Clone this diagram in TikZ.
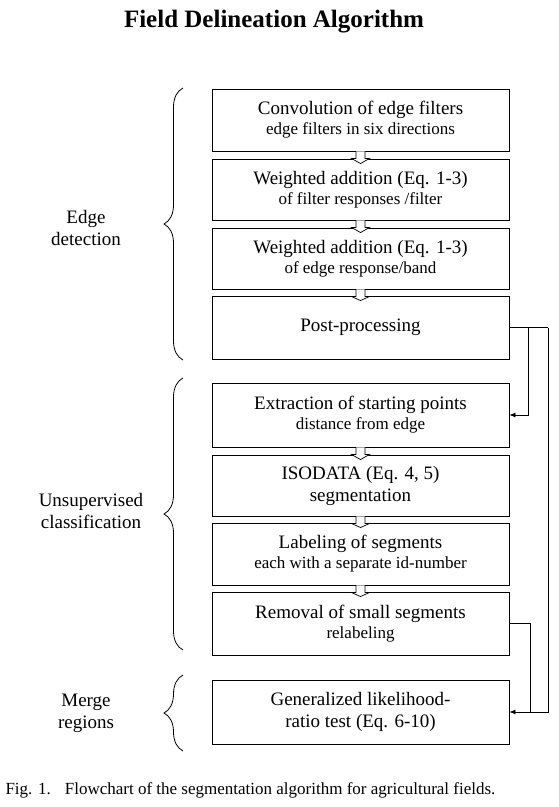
\documentclass[tikz,border=0pt]{standalone}
\usepackage{fontspec}
\setmainfont{Liberation Serif}
\usetikzlibrary{calc,arrows.meta,decorations.pathreplacing}
\newcommand\mainf{\fontsize{19}{22}\selectfont}
\newcommand\subf{\fontsize{17}{22}\selectfont}
\begin{document}
\begin{tikzpicture}[x=1pt,y=-1pt,
  box/.style={draw,line width=0.9pt,minimum width=297pt,inner sep=0pt,align=center,font=\mainf},
  side/.style={align=center,font=\mainf},
  hollow/.style={draw,line width=0.7pt,fill=white},
  link/.style={draw,line width=0.8pt},
  arr/.style={link,-{Latex[length=6pt,width=5pt]}},
  brc/.style={draw,line width=0.8pt,decorate,decoration={brace,amplitude=19pt}}]
\useasboundingbox (0,0) rectangle (558,807);
\node[font=\fontsize{25}{28}\selectfont\bfseries] (title) at (274,22) {Field Delineation Algorithm};

\node[box,minimum height=62pt] (b1) at (360.5,120) {\rule{0pt}{4pt}Convolution of edge filters\\[-2pt]\subf edge filters in six directions};
\node[box,minimum height=61pt] (b2) at (360.5,189.5) {\rule{0pt}{4pt}Weighted addition (Eq. 1-3)\\[-2pt]\subf of filter responses /filter};
\node[box,minimum height=61pt] (b3) at (360.5,258.5) {\rule{0pt}{4pt}Weighted addition (Eq. 1-3)\\[-2pt]\subf of edge response/band};
\node[box,minimum height=63pt] (b4) at (360.5,327.5) {Post-processing};
\node[box,minimum height=64pt] (b5) at (360.5,415) {\rule{0pt}{4pt}Extraction of starting points\\[-2pt]\subf distance from edge};
\node[box,minimum height=61pt] (b6) at (360.5,485.5) {ISODATA (Eq. 4, 5)\\segmentation};
\node[box,minimum height=62pt] (b7) at (360.5,554) {\rule{0pt}{4pt}Labeling of segments\\[-2pt]\subf each with a separate id-number};
\node[box,minimum height=63pt] (b8) at (360.5,623.5) {\rule{0pt}{4pt}Removal of small segments\\[-2pt]\subf relabeling};
\node[box,minimum height=64pt] (b9) at (360.5,712) {Generalized likelihood-\\ratio test (Eq. 6-10)};

% hollow block arrows
\foreach \a/\b in {b1/b2,b2/b3,b3/b4,b5/b6,b6/b7,b7/b8}{
  \path[hollow] ($(\a.south)+(-4.5,0)$) -- ++(0,7) -- ++(-4.5,0) -- ($(\b.north)+(0,5)$)
     -- ($(\a.south)+(9,7)$) -- ++(-4.5,0) -- ($(\a.south)+(4.5,0)$);
}

% connectors
\coordinate (c1) at (528,327.5);
\coordinate (c2) at (548,327.5);
\coordinate (c3) at (530,623.5);
\draw[link] (b4.east) -- (c2);
\draw[arr] (c1) |- (b5.east);
\draw[arr] (c2) |- (b9.east);
\draw[link] (b8.east) -- (c3) -- (c3 |- b9.east);

% braces
\draw[brc] (183,360) -- (183,88);
\draw[brc] (183,650) -- (183,378);
\draw[brc] (183,751) -- (183,675);

\node[side] (l1) at (86,228) {Edge\\detection};
\node[side] (l2) at (91,511) {Unsupervised\\classification};
\node[side] (l3) at (86,713) {Merge\\regions};

\node[anchor=west,font=\fontsize{17}{20}\selectfont] (cap) at (2,790) {Fig. 1.\hspace{14pt}Flowchart of the segmentation algorithm for agricultural fields.};
\end{tikzpicture}
\end{document}
